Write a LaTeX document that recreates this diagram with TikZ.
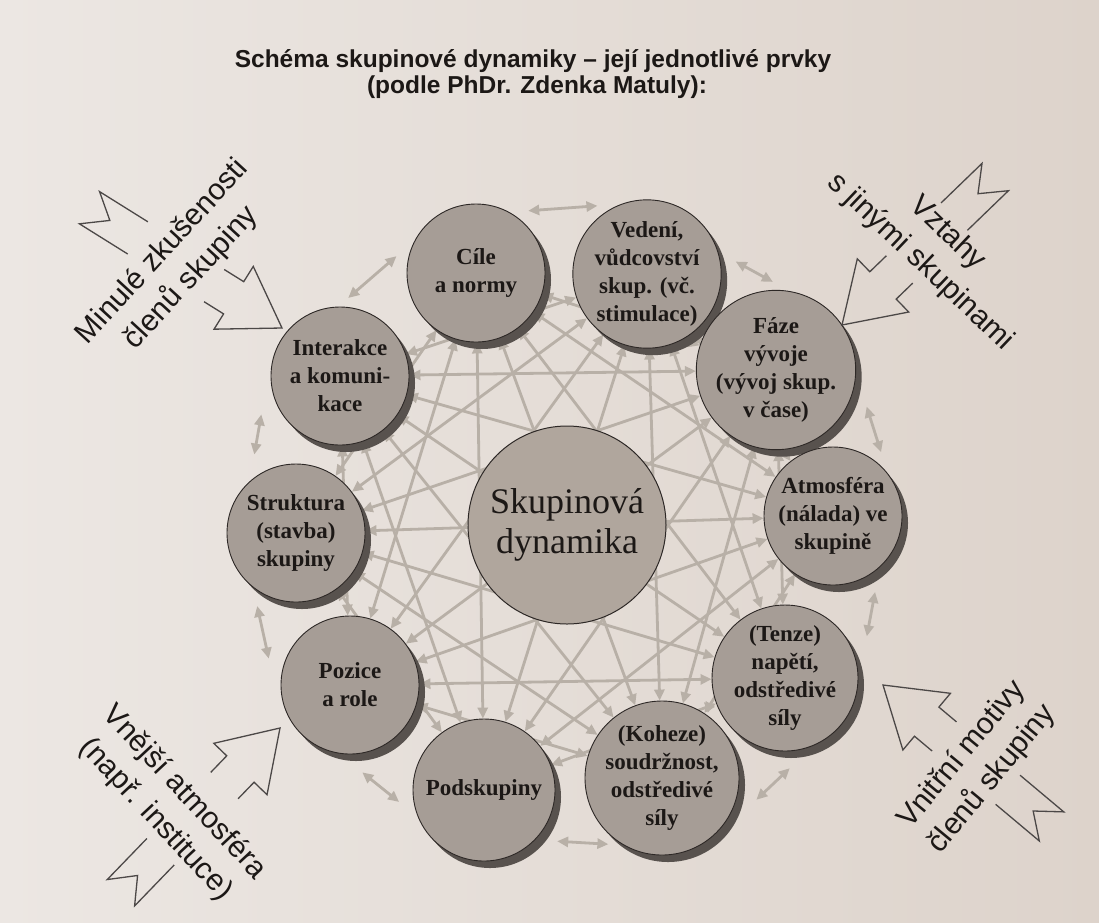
\documentclass[tikz,border=0pt]{standalone}
\usepackage{fontspec}
\setmainfont{Liberation Serif}
\newfontfamily\arialf{Liberation Sans}
\usetikzlibrary{arrows.meta,calc,shadows}
\definecolor{bgL}{RGB}{236,231,227}
\definecolor{bgR}{RGB}{221,211,203}
\definecolor{circfill}{RGB}{166,157,150}
\definecolor{centfill}{RGB}{176,166,157}
\definecolor{shadowc}{RGB}{88,82,78}
\definecolor{webc}{RGB}{184,176,167}
\definecolor{linec}{RGB}{45,40,38}
\definecolor{inkc}{RGB}{28,24,22}
\pgfdeclarelayer{back}
\pgfdeclarelayer{web}
\pgfsetlayers{back,web,main}
\tikzset{
 elem/.style={circle, draw=linec, line width=0.9pt, fill=circfill, minimum size=138pt, inner sep=0pt, align=center, text=inkc, font=\bfseries\fontsize{23}{28}\selectfont, drop shadow={shadow xshift=6pt, shadow yshift=-7pt, fill=shadowc, opacity=1}},
 core/.style={circle, draw=linec, line width=1pt, fill=centfill, minimum size=198pt, inner sep=0pt, align=center, text=inkc, font=\fontsize{36}{40}\selectfont},
 chord/.style={draw=webc, line width=2.8pt, >={Triangle[length=11pt,width=10pt]}, <->},
 barrow/.style={draw=linec!85, line width=1.3pt, line join=miter},
 side/.style={font=\arialf\fontsize{30}{39}\selectfont, align=center, text=inkc},
 ttl/.style={font=\arialf\bfseries\fontsize{24.5}{26}\selectfont, text=inkc}
}
\newcommand{\blockarrow}[3]{%
 \begin{scope}[shift={#1},rotate=#2]
  \draw[barrow] (-80,-19) -- (-57,-19) -- (-57,-37) -- (0,0) -- (-57,37) -- (-57,19) -- (-80,19);
  \draw[barrow] ({-#3+57},-19) -- (-#3,-19) -- ({-#3+24},0) -- (-#3,19) -- ({-#3+57},19);
 \end{scope}}
\begin{document}
\begin{tikzpicture}[x=1pt,y=-1pt]
\useasboundingbox (0,0) rectangle (1099,922);
\begin{pgfonlayer}{back}
\shade[left color=bgL,right color=bgR] (0,0) rectangle (1099,922);
\end{pgfonlayer}

% title
\node[ttl, anchor=base] (t1) at (533,67) {Schéma skupinové dynamiky – její jednotlivé prvky};
\node[ttl, anchor=base] (t2) at (537,93) {(podle PhDr. Zdenka Matuly):};

% elements
\node[elem] (c1) at (476,273) {Cíle\\a normy};
\node[elem] (c2) at (647,274) {Vedení,\\vůdcovství\\skup. (vč.\\stimulace)};
\node[elem] (c3) at (776,370) {Fáze\\vývoje\\(vývoj skup.\\v čase)};
\node[elem] (c4) at (833,516) {Atmosféra\\(nálada) ve\\skupině};
\node[elem] (c5) at (785,678) {(Tenze)\\napětí,\\odstředivé\\síly};
\node[elem] (c6) at (662,778) {(Koheze)\\soudržnost,\\odstředivé\\síly};
\node[elem, minimum size=142pt] (c7) at (484,790) {Podskupiny};
\node[elem] (c8) at (350,685) {Pozice\\a role};
\node[elem] (c9) at (296,533) {Struktura\\(stavba)\\skupiny};
\node[elem] (c10) at (340,376) {Interakce\\a komuni-\\kace};
\node[core] (sd) at (567,525) {Skupinová\\dynamika};

% web of relations
\begin{pgfonlayer}{web}
\foreach \a/\b in {c1/c3,c1/c4,c1/c5,c1/c6,c1/c7,c1/c8,c1/c9,
 c2/c4,c2/c5,c2/c6,c2/c7,c2/c8,c2/c9,c2/c10,
 c3/c5,c3/c6,c3/c7,c3/c8,c3/c9,c3/c10,
 c4/c6,c4/c7,c4/c8,c4/c9,c4/c10,
 c5/c7,c5/c8,c5/c9,c5/c10,
 c6/c8,c6/c9,c6/c10,
 c7/c9,c7/c10,
 c8/c10}
 {\draw[chord] (\a) -- (\b);}
\draw[chord] ($(c1.center)!1.17!(c1.50)$) -- ($(c2.center)!1.13!(c2.126)$);
\draw[chord] ($(c2.center)!1.2!(c2.8)$) -- ($(c3.center)!1.1!(c3.92)$);
\draw[chord] ($(c3.center)!1.22!(c3.338)$) -- ($(c4.center)!1.15!(c4.53)$);
\draw[chord] ($(c4.center)!1.25!(c4.299)$) -- ($(c5.center)!1.25!(c5.27)$);
\draw[chord] ($(c5.center)!1.23!(c5.273)$) -- ($(c6.center)!1.25!(c6.347)$);
\draw[chord] ($(c6.center)!1.1!(c6.231)$) -- ($(c7.center)!1.25!(c7.325)$);
\draw[chord] ($(c7.center)!1.2!(c7.188)$) -- ($(c8.center)!1.27!(c8.278)$);
\draw[chord] ($(c8.center)!1.23!(c8.162)$) -- ($(c9.center)!1.19!(c9.242)$);
\draw[chord] ($(c9.center)!1.28!(c9.118)$) -- ($(c10.center)!1.26!(c10.206)$);
\draw[chord] ($(c10.center)!1.13!(c10.84)$) -- ($(c1.center)!1.17!(c1.168)$);
\end{pgfonlayer}

% outer influences
\blockarrow{(282,328)}{-32}{227}
\blockarrow{(842,325)}{224}{213}
\blockarrow{(280,728)}{46}{229}
\blockarrow{(883,685)}{140}{220}
\node[side, rotate=47.5] (tl) at (177,265) {Minulé zkušenosti\\členů skupiny};
\node[side, rotate=-43.5] (tr) at (934,248) {Vztahy\\s jinými skupinami};
\node[side, rotate=-47] (bl) at (170,806) {Vnější atmosféra\\(např. instituce)};
\node[side, rotate=50.5] (br) at (977,767) {Vnitřní motivy\\členů skupiny};
\end{tikzpicture}
\end{document}
